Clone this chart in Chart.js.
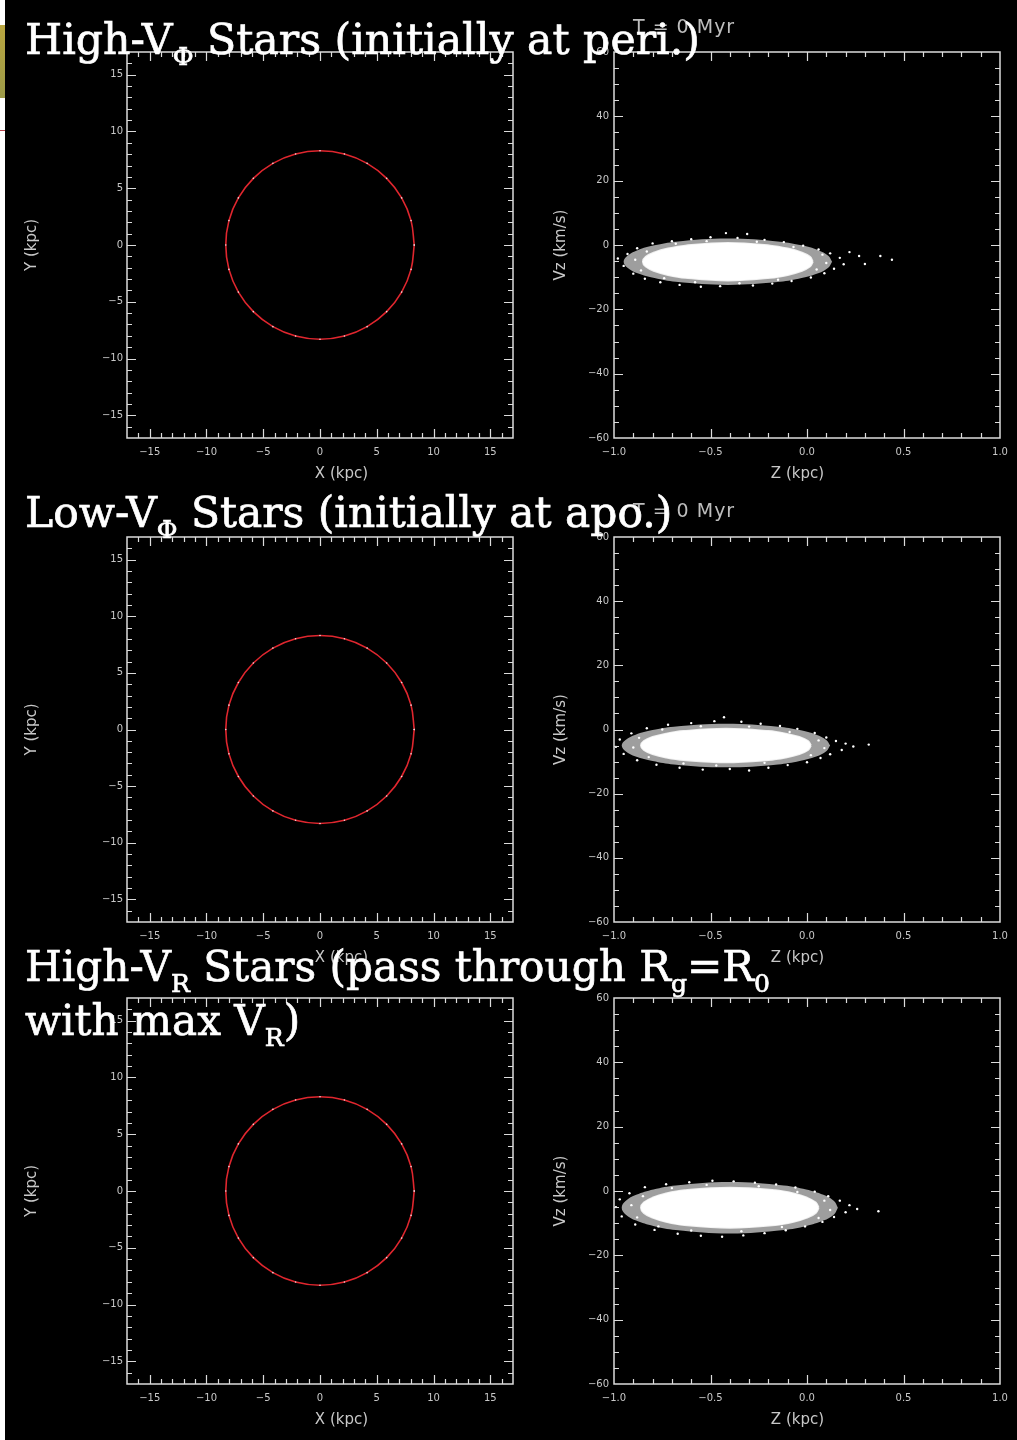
<!DOCTYPE html>
<html>
<head>
<meta charset="utf-8">
<script src="https://cdn.jsdelivr.net/npm/chart.js@4.4.1/dist/chart.umd.min.js"></script>
<style>
  html, body { margin: 0; padding: 0; background: #000; }
  body { width: 1017px; height: 1440px; position: relative; overflow: hidden; }
  canvas { position: absolute; }
  .strip { position: absolute; left: 0; top: 0; width: 5px; height: 1440px; background: #fff; }
  .olive { position: absolute; left: 0; top: 25px; width: 5px; height: 73px; background: linear-gradient(#b9a640, #9c9a48); }
  .redln { position: absolute; left: 0; top: 130px; width: 5px; height: 1px; background: #b8434a; }
  .ttl { position: absolute; left: 25px; font-family: 'DejaVu Serif', serif; font-size: 42px; line-height: 42px;
         color: #fff; -webkit-text-stroke: 0.7px #fff; white-space: nowrap; transform-origin: 0 0; z-index: 5; }
  .sb { font-size: 25px; position: relative; top: 11px; }
  .tm { position: absolute; left: 633px; font-family: 'DejaVu Sans', sans-serif; font-size: 19px; color: #bdbdbd;
        white-space: nowrap; letter-spacing: 1px; z-index: 2; }
</style>
</head>
<body>
<div class="strip"></div>
<div class="olive"></div>
<div class="redln"></div>

<canvas id="xy1" width="530" height="488" style="left:0;top:0"></canvas>
<canvas id="vz1" width="487" height="488" style="left:530px;top:0"></canvas>
<canvas id="xy2" width="530" height="484" style="left:0;top:488px"></canvas>
<canvas id="vz2" width="487" height="484" style="left:530px;top:488px"></canvas>
<canvas id="xy3" width="530" height="462" style="left:0;top:972px"></canvas>
<canvas id="vz3" width="487" height="462" style="left:530px;top:972px"></canvas>

<div class="tm" style="top:15px">T = 0 Myr</div>
<div class="tm" style="top:499px">T = 0 Myr</div>

<div class="ttl" data-w="675" style="top:19px">High-V<span class="sb">Φ</span> Stars (initially at peri.)</div>
<div class="ttl" data-w="647" style="top:492px">Low-V<span class="sb">Φ</span> Stars (initially at apo.)</div>
<div class="ttl" data-w="745" style="top:946px">High-V<span class="sb">R</span> Stars (pass through R<span class="sb">g</span>=R<span class="sb">0</span></div>
<div class="ttl" data-w="275" style="top:1000px">with max V<span class="sb">R</span>)</div>

<script>
// axis ranges and tick labels
var xyRange = [-17, 17];
var xyTicks = [-15, -10, -5, 0, 5, 10, 15];
var zRange = [-1, 1];
var zTicks = [-1.0, -0.5, 0.0, 0.5, 1.0];
var vzRange = [-60, 60];
var vzTicks = [-60, -40, -20, 0, 20, 40, 60];

// ring of stars in the X-Y plane (kpc), same for all three rows
var ringPts = [
  [8.30, 0], [8.02, 2.15], [7.19, 4.15], [5.87, 5.87], [4.15, 7.19], [2.15, 8.02],
  [0, 8.30], [-2.15, 8.02], [-4.15, 7.19], [-5.87, 5.87], [-7.19, 4.15], [-8.02, 2.15],
  [-8.30, 0], [-8.02, -2.15], [-7.19, -4.15], [-5.87, -5.87], [-4.15, -7.19], [-2.15, -8.02],
  [0, -8.30], [2.15, -8.02], [4.15, -7.19], [5.87, -5.87], [7.19, -4.15], [8.02, -2.15], [8.30, 0]
];

// Z-Vz distributions: dense core outline, speckled fringe outline, loose stars
var core1 = [[0.03,-5.2],[0.015,-3.7],[-0.03,-2.3],[-0.10,-1.1],[-0.19,-0.2],[-0.41,0.6],[-0.63,-0.2],
  [-0.72,-1.1],[-0.79,-2.3],[-0.835,-3.7],[-0.85,-5.2],[-0.835,-6.7],[-0.79,-8.1],[-0.72,-9.3],[-0.63,-10.2],
  [-0.41,-11.0],[-0.19,-10.2],[-0.10,-9.3],[-0.03,-8.1],[0.015,-6.7],[0.03,-5.2]];
var halo1 = [[0.13,-5.2],[0.11,-3.34],[0.058,-1.6],[-0.028,-0.11],[-0.14,1.04],[-0.41,2.0],[-0.68,1.04],
  [-0.79,-0.11],[-0.878,-1.6],[-0.93,-3.34],[-0.95,-5.2],[-0.93,-7.06],[-0.878,-8.8],[-0.79,-10.29],[-0.68,-11.44],
  [-0.41,-12.4],[-0.14,-11.44],[-0.028,-10.29],[0.058,-8.8],[0.11,-7.06],[0.13,-5.2]];
var stars1 = [[-0.98,-4.2],[-0.95,-6.5],[-0.93,-2.8],[-0.90,-8.9],[-0.88,-1.0],[-0.84,-10.5],[-0.80,0.5],[-0.76,-11.6],
  [-0.70,1.2],[-0.66,-12.4],[-0.60,1.8],[-0.55,-13.0],[-0.50,2.4],[-0.45,-12.8],[-0.42,3.7],[-0.36,2.2],[-0.31,3.4],
  [-0.28,-12.6],[-0.22,1.6],[-0.18,-12.0],[-0.12,0.9],[-0.08,-11.2],[-0.02,-0.2],[0.02,-10.1],[0.06,-1.4],[0.09,-8.8],
  [0.12,-2.6],[0.14,-7.4],[0.17,-4.0],[0.19,-6.0],[0.22,-2.2],[0.27,-3.4],[0.30,-5.9],[0.38,-3.4],[0.44,-4.6],
  [-0.89,-4.6],[-0.86,-7.9],[-0.83,-2.0],[-0.74,-10.3],[-0.68,0.4],[-0.58,-11.6],[-0.52,1.2],[-0.35,-11.9],
  [-0.26,1.0],[-0.15,-10.8],[-0.07,-0.6],[0.05,-7.6],[0.08,-3.0],[0.10,-5.6]];

var core2 = [[0.02,-5.0],[0.005,-3.6],[-0.04,-2.35],[-0.11,-1.3],[-0.20,-0.5],[-0.42,0.2],[-0.64,-0.5],
  [-0.73,-1.3],[-0.80,-2.35],[-0.845,-3.6],[-0.86,-5.0],[-0.845,-6.4],[-0.80,-7.65],[-0.73,-8.7],[-0.64,-9.5],
  [-0.42,-10.2],[-0.20,-9.5],[-0.11,-8.7],[-0.04,-7.65],[0.005,-6.4],[0.02,-5.0]];
var halo2 = [[0.12,-5.0],[0.10,-3.24],[0.048,-1.6],[-0.038,-0.19],[-0.15,0.89],[-0.42,1.8],[-0.69,0.89],
  [-0.80,-0.19],[-0.888,-1.6],[-0.94,-3.24],[-0.96,-5.0],[-0.94,-6.76],[-0.888,-8.4],[-0.80,-9.81],[-0.69,-10.89],
  [-0.42,-11.8],[-0.15,-10.89],[-0.038,-9.81],[0.048,-8.4],[0.10,-6.76],[0.12,-5.0]];
var stars2 = [[-0.99,-5.4],[-0.97,-3.1],[-0.95,-7.6],[-0.91,-1.2],[-0.88,-9.6],[-0.83,0.4],[-0.78,-11.0],[-0.72,1.5],
  [-0.66,-11.9],[-0.60,2.0],[-0.54,-12.5],[-0.48,2.6],[-0.43,3.8],[-0.40,-12.3],[-0.34,2.4],[-0.30,-12.8],[-0.24,1.8],
  [-0.20,-11.9],[-0.14,1.1],[-0.10,-11.1],[-0.05,0.2],[0.00,-10.2],[0.04,-1.1],[0.07,-8.9],[0.10,-2.5],[0.12,-7.7],
  [0.15,-3.6],[0.18,-6.4],[0.20,-4.4],[0.24,-5.3],[0.32,-4.7],
  [-0.90,-5.6],[-0.87,-2.6],[-0.82,-8.6],[-0.75,0.0],[-0.64,-10.6],[-0.55,1.0],[-0.47,-11.2],[-0.30,0.9],
  [-0.22,-10.4],[-0.09,-0.8],[0.02,-8.0],[0.06,-3.4],[0.09,-5.8]];

var core3 = [[0.06,-5.2],[0.045,-3.6],[0.0,-2.1],[-0.07,-0.8],[-0.165,0.2],[-0.40,1.0],[-0.635,0.2],
  [-0.73,-0.8],[-0.80,-2.1],[-0.845,-3.6],[-0.86,-5.2],[-0.845,-6.8],[-0.80,-8.3],[-0.73,-9.6],[-0.635,-10.6],
  [-0.40,-11.4],[-0.165,-10.6],[-0.07,-9.6],[0.0,-8.3],[0.045,-6.8],[0.06,-5.2]];
var halo3 = [[0.16,-5.2],[0.14,-3.13],[0.085,-1.2],[-0.004,0.46],[-0.12,1.73],[-0.40,2.8],[-0.68,1.73],
  [-0.796,0.46],[-0.885,-1.2],[-0.94,-3.13],[-0.96,-5.2],[-0.94,-7.27],[-0.885,-9.2],[-0.796,-10.86],[-0.68,-12.13],
  [-0.40,-13.2],[-0.12,-12.13],[-0.004,-10.86],[0.085,-9.2],[0.14,-7.27],[0.16,-5.2]];
var stars3 = [[-0.99,-5.0],[-0.97,-2.6],[-0.96,-7.9],[-0.92,-0.7],[-0.89,-10.4],[-0.84,1.2],[-0.79,-12.1],[-0.73,2.1],
  [-0.67,-13.3],[-0.61,2.7],[-0.55,-13.9],[-0.49,3.2],[-0.44,-14.2],[-0.38,3.0],[-0.33,-13.8],[-0.27,2.6],[-0.22,-13.1],
  [-0.16,2.0],[-0.11,-12.2],[-0.06,1.1],[-0.01,-11.0],[0.04,-0.2],[0.08,-9.6],[0.11,-1.6],[0.14,-8.1],[0.17,-3.0],
  [0.20,-6.6],[0.22,-4.4],[0.26,-5.6],[0.37,-6.3],
  [-0.91,-4.4],[-0.88,-8.2],[-0.85,-1.6],[-0.77,-11.0],[-0.70,0.9],[-0.60,-12.3],[-0.52,1.9],[-0.34,-12.5],
  [-0.25,1.5],[-0.13,-11.2],[-0.05,-0.3],[0.06,-8.4],[0.09,-3.0],[0.12,-5.9]];

var labelColor = '#c8c8c8';

function pts(arr) {
  return arr.map(function (p) { return {x: p[0], y: p[1]}; });
}

function fmtInt(v) { return String(v).replace('-', '\u2212'); }
function fmtOne(v) { return Number(v).toFixed(1).replace('-', '\u2212'); }

// IDL style box with inward ticks on all four sides
var idlFrame = {
  id: 'idlFrame',
  afterDatasetsDraw: function (chart, args, o) {
    var ctx = chart.ctx, a = chart.chartArea;
    var xs = chart.scales.x, ys = chart.scales.y;
    var i, n, v, p, len;
    ctx.save();
    ctx.strokeStyle = '#dcdcdc';
    ctx.lineWidth = 1.5;
    ctx.strokeRect(a.left, a.top, a.right - a.left, a.bottom - a.top);
    ctx.lineWidth = 1.2;
    ctx.beginPath();
    n = Math.round((xs.max - xs.min) / o.xMinor);
    for (i = 1; i < n; i++) {
      v = xs.min + i * o.xMinor;
      len = Math.abs(v / o.xMajor - Math.round(v / o.xMajor)) < 1e-6 ? 9 : 5;
      p = Math.round(xs.getPixelForValue(v)) + 0.5;
      ctx.moveTo(p, a.bottom); ctx.lineTo(p, a.bottom - len);
      ctx.moveTo(p, a.top); ctx.lineTo(p, a.top + len);
    }
    n = Math.round((ys.max - ys.min) / o.yMinor);
    for (i = 1; i < n; i++) {
      v = ys.min + i * o.yMinor;
      len = Math.abs(v / o.yMajor - Math.round(v / o.yMajor)) < 1e-6 ? 9 : 5;
      p = Math.round(ys.getPixelForValue(v)) + 0.5;
      ctx.moveTo(a.left, p); ctx.lineTo(a.left + len, p);
      ctx.moveTo(a.right, p); ctx.lineTo(a.right - len, p);
    }
    ctx.stroke();
    ctx.restore();
  }
};

function axis(range, ticks, fmt, size, pad, title, tpad) {
  return {
    type: 'linear', min: range[0], max: range[1],
    afterBuildTicks: function (s) { s.ticks = ticks.map(function (v) { return {value: v}; }); },
    afterFit: function (s) { if (s.isHorizontal()) s.height = size; else s.width = size; },
    grid: {display: false, drawTicks: false},
    border: {display: false},
    ticks: {color: labelColor, font: {family: 'DejaVu Sans', size: 10}, padding: pad,
            maxRotation: 0, autoSkip: false, callback: fmt},
    title: {display: true, text: title, color: labelColor,
            font: {family: 'DejaVu Sans', size: 15}, padding: tpad}
  };
}

function xyChart(id, top) {
  new Chart(document.getElementById(id), {
    type: 'scatter',
    data: {
      datasets: [{
        data: pts(ringPts), showLine: true, tension: 0.4, borderColor: '#e0262e', borderWidth: 1.6,
        pointRadius: 0.8, pointBackgroundColor: '#f0d8dc', pointBorderWidth: 0
      }]
    },
    options: {
      responsive: false, animation: false, devicePixelRatio: 1,
      layout: {padding: {left: 0, right: 17, top: top, bottom: 0}},
      plugins: {legend: {display: false}, tooltip: {enabled: false},
                idlFrame: {xMinor: 1, xMajor: 5, yMinor: 1, yMajor: 5}},
      scales: {
        x: axis(xyRange, xyTicks, fmtInt, 50, 8, '         X (kpc)', {top: 0, bottom: 5}),
        y: axis(xyRange, xyTicks, fmtInt, 127, 4, 'Y (kpc)', {top: 23, bottom: 0})
      }
    },
    plugins: [idlFrame]
  });
}

function vzChart(id, top, halo, core, stars) {
  new Chart(document.getElementById(id), {
    type: 'scatter',
    data: {
      datasets: [
        {data: pts(halo), showLine: true, fill: 'shape', tension: 0.4, borderWidth: 0,
         borderColor: 'rgba(0,0,0,0)', backgroundColor: 'rgba(255,255,255,0.62)', pointRadius: 0},
        {data: pts(core), showLine: true, fill: 'shape', tension: 0.4, borderWidth: 2,
         borderColor: 'rgba(255,255,255,0.85)', backgroundColor: '#ffffff', pointRadius: 0},
        {data: pts(stars), pointRadius: 1.2, pointBackgroundColor: '#ffffff', pointBorderWidth: 0}
      ]
    },
    options: {
      responsive: false, animation: false, devicePixelRatio: 1,
      layout: {padding: {left: 0, right: 17, top: top, bottom: 0}},
      plugins: {legend: {display: false}, tooltip: {enabled: false},
                idlFrame: {xMinor: 0.1, xMajor: 0.5, yMinor: 5, yMajor: 20}},
      scales: {
        x: axis(zRange, zTicks, fmtOne, 50, 8, 'Z (kpc)    ', {top: 0, bottom: 5}),
        y: axis(vzRange, vzTicks, fmtInt, 84, 5, 'Vz (km/s)', {top: 22, bottom: 0})
      }
    },
    plugins: [idlFrame]
  });
}

xyChart('xy1', 52);
vzChart('vz1', 52, halo1, core1, stars1);
xyChart('xy2', 49);
vzChart('vz2', 49, halo2, core2, stars2);
xyChart('xy3', 26);
vzChart('vz3', 26, halo3, core3, stars3);

// squeeze the slide titles to the width they take in the original
function fitTitles() {
  var els = document.querySelectorAll('.ttl');
  for (var i = 0; i < els.length; i++) {
    els[i].style.transform = 'none';
    var w = +els[i].getAttribute('data-w');
    els[i].style.transform = 'scaleX(' + (w / els[i].offsetWidth) + ')';
  }
}
fitTitles();
if (document.fonts && document.fonts.ready) document.fonts.ready.then(fitTitles);
</script>
</body>
</html>
